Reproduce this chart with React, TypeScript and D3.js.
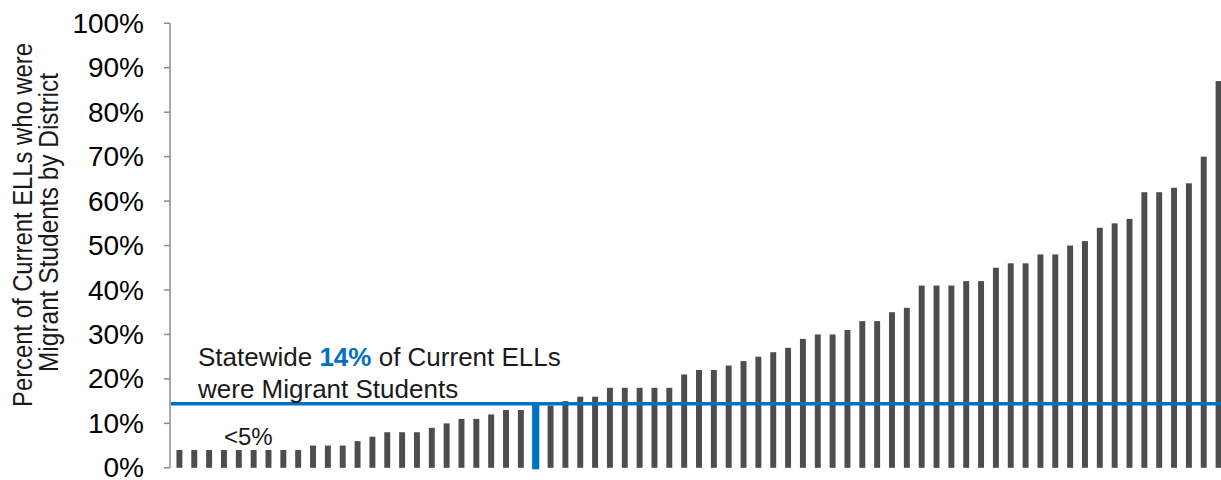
import React from "react";
import * as d3 from "d3";

const districtValues: number[] = [
  4, 4, 4, 4, 4, 4, 4, 4, 4, 5, 5, 5, 6, 7, 8, 8, 8, 9, 10, 11, 11, 12, 13, 13,
  14, 14, 15, 16, 16, 18, 18, 18, 18, 18, 21, 22, 22, 23, 24, 25, 26, 27, 29, 30,
  30, 31, 33, 33, 35, 36, 41, 41, 41, 42, 42, 45, 46, 46, 48, 48, 50, 51, 54, 55,
  56, 62, 62, 63, 64, 70, 87,
];
const statewideIndex = 24; // the highlighted (blue) bar
const statewideValue = 14.4;
const yTicks: number[] = [0, 10, 20, 30, 40, 50, 60, 70, 80, 90, 100];
const titleLines: string[] = ["Percent of Current ELLs who were", "Migrant Students by District"];
const noteLine1: string[] = ["Statewide ", "14%", " of Current ELLs"];
const noteLine2 = "were Migrant Students";
const smallNote = "<5%";

const W = 1221;
const H = 480;

export default function App() {
  const axisX = 170;
  const y = d3.scaleLinear().domain([0, 100]).range([467.8, 23.3]);
  const x = d3
    .scaleBand<number>()
    .domain(districtValues.map((_, i) => i))
    .range([172, 1226])
    .paddingInner(0.6)
    .paddingOuter(0.3);
  const bw = x.bandwidth();
  const sans = "'Liberation Sans', Arial, sans-serif";
  const axisColor = "#8c8c8c";
  const blue = "#0070c0";

  return (
    <svg
      width={W}
      height={H}
      style={{ position: "absolute", left: 0, top: 0, background: "#fff" }}
      fontFamily={sans}
    >
      {/* bars */}
      {districtValues.map((v, i) => {
        const cx = (x(i) as number) + bw / 2;
        if (i === statewideIndex) {
          const w = 7.2;
          return (
            <rect
              key={i}
              x={cx - w / 2}
              y={y(statewideValue)}
              width={w}
              height={y(0) - y(statewideValue) + 1.5}
              fill={blue}
            />
          );
        }
        return (
          <rect
            key={i}
            x={x(i)}
            y={y(v)}
            width={bw}
            height={y(0) - y(v)}
            fill="#4d4d4d"
          />
        );
      })}

      {/* statewide line */}
      <line
        x1={axisX + 1}
        x2={W}
        y1={y(statewideValue)}
        y2={y(statewideValue)}
        stroke={blue}
        strokeWidth={3.6}
      />

      {/* y axis */}
      <line x1={axisX} x2={axisX} y1={y(100)} y2={y(0)} stroke={axisColor} strokeWidth={1.5} />
      {yTicks.map((t) => (
        <g key={t}>
          <line x1={axisX - 6} x2={axisX} y1={y(t)} y2={y(t)} stroke={axisColor} strokeWidth={1.5} />
          <text x={144} y={y(t) + 9.5} textAnchor="end" fontSize={28} fill="#000">
            {t}%
          </text>
        </g>
      ))}

      {/* y axis title */}
      <g transform="translate(31.5,225) rotate(-90)">
        <text
          x={0}
          y={0}
          textAnchor="middle"
          fontSize={27}
          fill="#1a1a1a"
          textLength={364}
          lengthAdjust="spacingAndGlyphs"
        >
          {titleLines[0]}
        </text>
      </g>
      <g transform="translate(57.5,222.5) rotate(-90)">
        <text
          x={0}
          y={0}
          textAnchor="middle"
          fontSize={27}
          fill="#1a1a1a"
          textLength={299}
          lengthAdjust="spacingAndGlyphs"
        >
          {titleLines[1]}
        </text>
      </g>

      {/* annotation */}
      <text x={198} y={365.5} fontSize={26} fill="#1a1a1a">
        <tspan>{noteLine1[0]}</tspan>
        <tspan fill={blue} fontWeight="bold">
          {noteLine1[1]}
        </tspan>
        <tspan>{noteLine1[2]}</tspan>
      </text>
      <text x={198} y={398} fontSize={26} fill="#1a1a1a">
        {noteLine2}
      </text>
      <text x={224} y={445} fontSize={24} fill="#1a1a1a">
        {smallNote}
      </text>
    </svg>
  );
}
